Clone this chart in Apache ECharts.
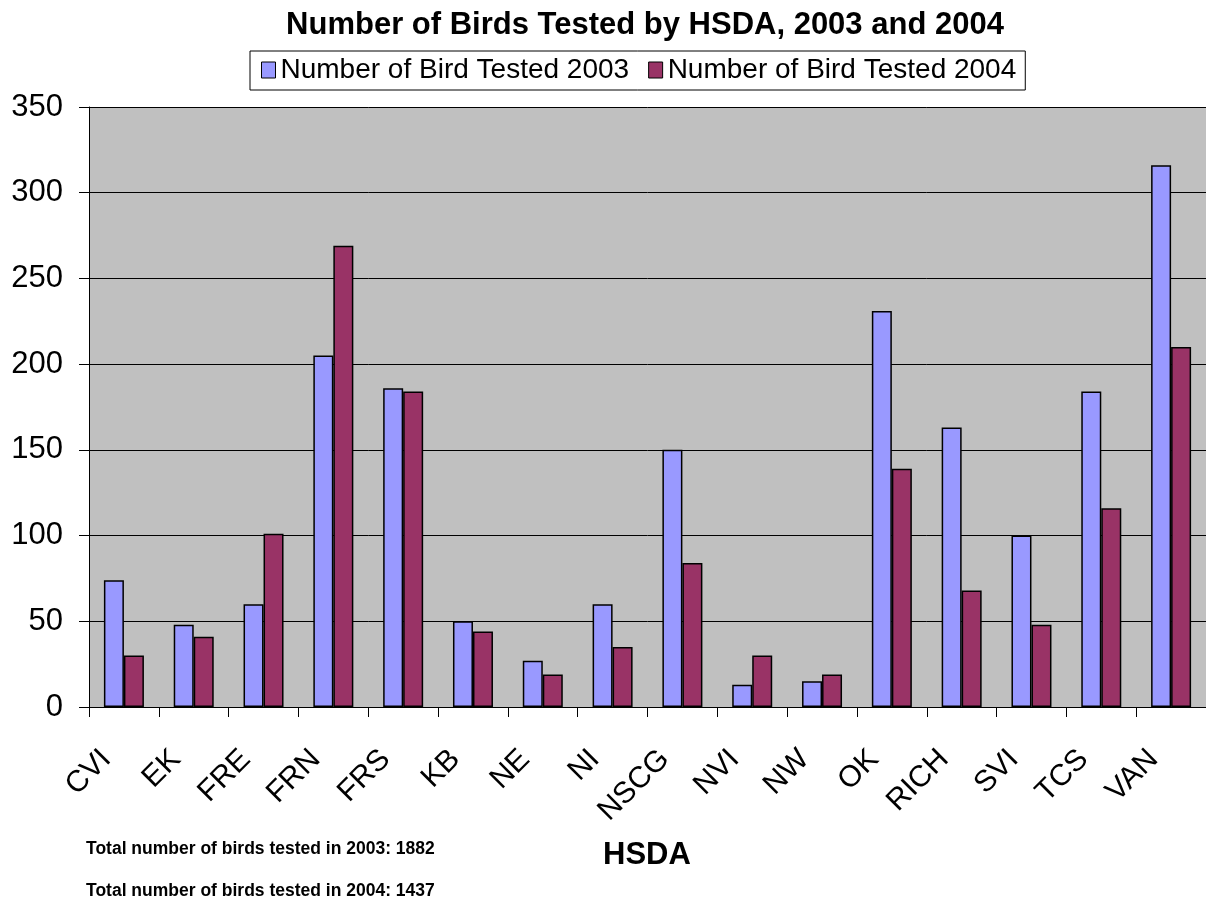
<!DOCTYPE html>
<html>
<head>
<meta charset="utf-8">
<script src="https://cdn.jsdelivr.net/npm/echarts@6/dist/echarts.min.js"></script>
<style>
html,body{margin:0;padding:0;background:#fff;}
#c{width:1206px;height:905px;}
</style>
</head>
<body>
<div id="c"></div>
<script>
const categories = ['CVI','EK','FRE','FRN','FRS','KB','NE','NI','NSCG','NVI','NW','OK','RICH','SVI','TCS','VAN'];
const tested2003 = [74,48,60,205,186,50,27,60,150,13,15,231,163,100,184,316];
const tested2004 = [30,41,101,269,184,44,19,35,84,30,19,139,68,48,116,210];
const seriesNames = ['Number of Bird Tested 2003','Number of Bird Tested 2004'];
const titleText = 'Number of Birds Tested by HSDA, 2003 and 2004';
const axisTitle = 'HSDA';
const notes = ['Total number of birds tested in 2003: 1882','Total number of birds tested in 2004: 1437'];

const FONT = '"Liberation Sans", Arial, sans-serif';
const chart = echarts.init(document.getElementById('c'), null, {renderer:'canvas'});
chart.setOption({
  animation:false,
  backgroundColor:'#ffffff',
  textStyle:{fontFamily:FONT, color:'#000'},
  title:{
    text:titleText, left:645, textAlign:'center', top:10, padding:0,
    textStyle:{fontSize:31, fontWeight:'bold', color:'#000', fontFamily:FONT}
  },
  legend:{
    top:51, left:250,
    borderColor:'#000', borderWidth:1, padding:[5,9,6,11],
    itemWidth:14, itemHeight:16, itemGap:19,
    icon:'rect',
    itemStyle:{borderColor:'#000', borderWidth:1},
    textStyle:{fontSize:28, color:'#000', fontFamily:FONT},
    data:seriesNames
  },
  grid:{
    left:89, right:-1, top:107, bottom:198, containLabel:false,
    show:true, backgroundColor:'#C0C0C0', borderWidth:0
  },
  xAxis:{
    type:'category', data:categories,
    axisLine:{lineStyle:{color:'#000', width:1}},
    axisTick:{show:true, alignWithLabel:false, length:10, lineStyle:{color:'#000'}},
    axisLabel:{rotate:45, fontSize:30, color:'#000', margin:30, padding:[0,25,0,0], fontFamily:FONT, interval:0}
  },
  yAxis:{
    type:'value', min:0, max:350, interval:50,
    axisLine:{show:true, lineStyle:{color:'#000', width:1}},
    axisTick:{show:true, length:10, lineStyle:{color:'#000'}},
    axisLabel:{fontSize:31, color:'#000', margin:26, fontFamily:FONT},
    splitLine:{show:true, lineStyle:{color:'#000', width:1}}
  },
  series:[
    {name:seriesNames[0], type:'bar', data:tested2003, barWidth:20, barGap:'0%',
     itemStyle:{color:'#9999FF', borderColor:'#000', borderWidth:1.5}},
    {name:seriesNames[1], type:'bar', data:tested2004, barWidth:20, barGap:'0%',
     itemStyle:{color:'#993366', borderColor:'#000', borderWidth:1.5}}
  ],
  graphic:[
    {type:'text', left:603, top:840, style:{text:axisTitle, font:'bold 31px '+FONT, fill:'#000'}},
    {type:'text', left:86, top:840, style:{text:notes[0], font:'bold 17.5px '+FONT, fill:'#000'}},
    {type:'text', left:86, top:882, style:{text:notes[1], font:'bold 17.5px '+FONT, fill:'#000'}}
  ]
});
</script>
</body>
</html>
